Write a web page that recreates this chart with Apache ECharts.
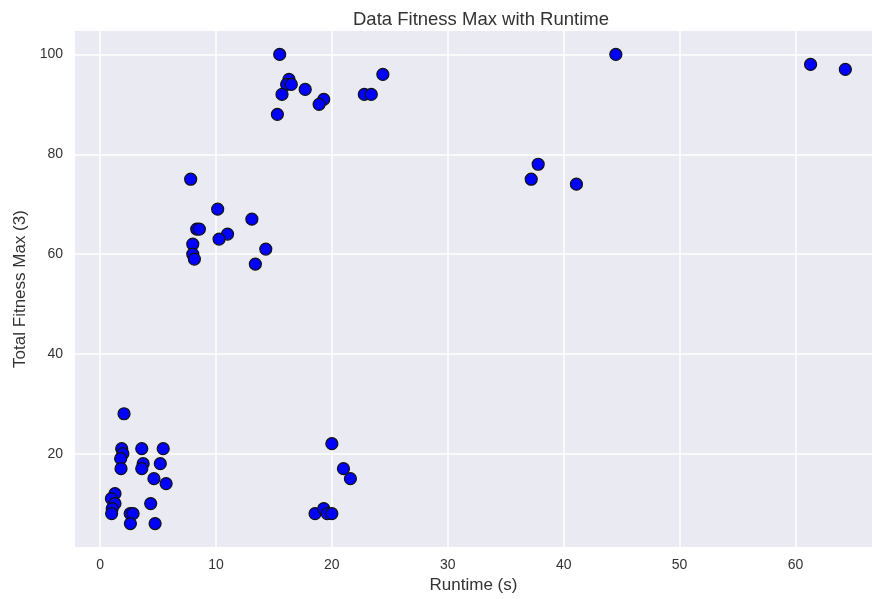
<!DOCTYPE html>
<html>
<head>
<meta charset="utf-8">
<script src="https://cdn.jsdelivr.net/npm/echarts@6/dist/echarts.min.js"></script>
<style>
html,body{margin:0;padding:0;background:#fff;}
#chart{width:872px;height:599px;}
</style>
</head>
<body>
<div id="chart"></div>
<script>
const runtime = [
  2.07, 1.87, 1.97, 1.78, 1.81, 3.6, 5.45, 3.72, 3.6, 5.2, 4.65, 5.7,
  1.29, 0.98, 1.29, 1.05, 1.0, 2.6, 2.85, 4.37, 2.62, 4.75,
  20.0, 21.0, 21.6, 18.55, 19.3, 19.6, 20.0,
  7.82, 10.15, 13.1, 8.34, 8.57, 11.0, 10.27, 8.0, 14.3, 8.0, 8.14, 13.4,
  15.5, 16.3, 16.1, 16.5, 15.7, 17.7, 19.3, 18.9, 15.3, 22.8, 23.4, 24.4,
  44.5, 61.3, 64.3, 37.8, 37.2, 41.1
];
const fitness = [
  28, 21, 20, 19, 17, 21, 21, 18, 17, 18, 15, 14,
  12, 11, 10, 9, 8, 8, 8, 10, 6, 6,
  22, 17, 15, 8, 9, 8, 8,
  75, 69, 67, 65, 65, 64, 63, 62, 61, 60, 59, 58,
  100, 95, 94, 94, 92, 93, 91, 90, 88, 92, 92, 96,
  100, 98, 97, 78, 75, 74
];
const xTicks = [0, 10, 20, 30, 40, 50, 60];
const yTicks = [20, 40, 60, 80, 100];

const points = runtime.map((x, i) => [x, fitness[i]]);
const font = 'Liberation Sans, Arial, sans-serif';
const chart = echarts.init(document.getElementById('chart'), null, {renderer: 'canvas'});
chart.setOption({
  animation: false,
  backgroundColor: '#ffffff',
  title: {
    text: 'Data Fitness Max with Runtime',
    left: 476, top: 5, textAlign: 'center',
    textStyle: {fontFamily: font, fontSize: 18.5, fontWeight: 'normal', color: '#333333'}
  },
  grid: {left: 75, right: 0, top: 31, bottom: 52, show: true, backgroundColor: '#EAEAF2', borderWidth: 0},
  xAxis: {
    type: 'value', min: -2.16, max: 66.6,
    name: 'Runtime (s)', nameLocation: 'middle', nameGap: 30,
    nameTextStyle: {fontFamily: font, fontSize: 17, color: '#333333'},
    axisLine: {show: false},
    axisTick: {show: false, customValues: xTicks},
    axisLabel: {customValues: xTicks, fontFamily: font, fontSize: 14, color: '#333333', margin: 11},
    splitLine: {show: true, lineStyle: {color: '#ffffff', width: 1.5}}
  },
  yAxis: {
    type: 'value', min: 1.3, max: 104.7,
    name: 'Total Fitness Max (3)', nameLocation: 'middle', nameGap: 45,
    nameTextStyle: {fontFamily: font, fontSize: 17, color: '#333333'},
    axisLine: {show: false},
    axisTick: {show: false, customValues: yTicks},
    axisLabel: {customValues: yTicks, fontFamily: font, fontSize: 14, color: '#333333', margin: 12},
    splitLine: {show: true, lineStyle: {color: '#ffffff', width: 1.5}}
  },
  series: [{
    type: 'scatter',
    data: points,
    symbolSize: 12,
    itemStyle: {color: '#0000FF', borderColor: '#111111', borderWidth: 1.2, opacity: 1}
  }]
});
</script>
</body>
</html>
